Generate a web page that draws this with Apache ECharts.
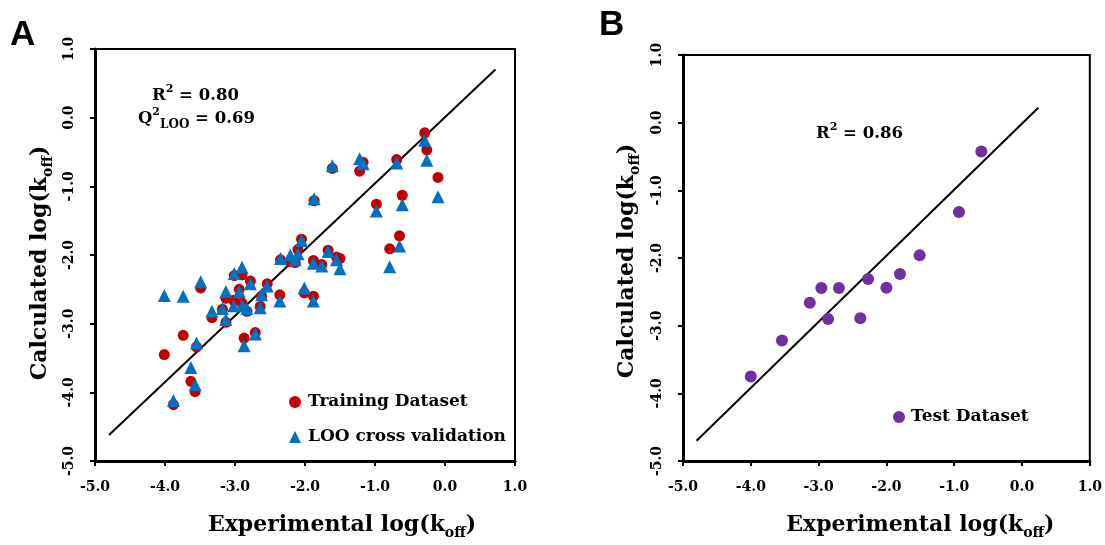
<!DOCTYPE html>
<html>
<head>
<meta charset="utf-8">
<title>log(koff) models</title>
<script src="https://cdn.jsdelivr.net/npm/echarts@6/dist/echarts.min.js"></script>
<style>
  html, body { margin: 0; padding: 0; background: #fff; }
  #chart { width: 1105px; height: 545px; }
</style>
</head>
<body>
<div id="chart"></div>
<script>
// Panel A: training compounds — experimental value, fitted value, leave-one-out prediction
const expA = [-4.01, -3.74, -3.88, -3.63, -3.57, -3.55, -3.49, -3.33, -3.18, -3.13,
              -3.13, -3.02, -3.01, -2.94, -2.90, -2.90, -2.83, -2.87, -2.78, -2.71,
              -2.64, -2.62, -2.54, -2.36, -2.35, -2.21, -2.14, -2.10, -2.05, -2.01,
              -1.88, -1.88, -1.76, -1.67, -1.55, -1.50, -1.87, -1.61, -1.22, -1.17,
              -0.98, -0.79, -0.69, -0.65, -0.61, -0.29, -0.26, -0.10];
const trainA = [-3.45, -3.17, -4.18, -3.84, -3.99, -3.34, -2.48, -2.91, -2.79, -2.63,
                -2.98, -2.66, -2.30, -2.50, -2.29, -2.70, -2.82, -3.21, -2.38, -3.13,
                -2.75, -2.60, -2.42, -2.58, -2.07, -2.10, -2.11, -1.92, -1.77, -2.55,
                -2.60, -2.08, -2.14, -1.93, -2.03, -2.05, -1.21, -0.74, -0.78, -0.65,
                -1.26, -1.91, -0.61, -1.72, -1.13, -0.22, -0.47, -0.87];
const looA = [-2.59, -2.60, -4.12, -3.64, -3.89, -3.28, -2.39, -2.82, -2.78, -2.53,
              -2.94, -2.74, -2.27, -2.53, -2.18, -2.74, -2.78, -3.32, -2.42, -3.15,
              -2.77, -2.58, -2.45, -2.67, -2.05, -2.00, -2.07, -1.98, -1.79, -2.48,
              -2.67, -2.12, -2.16, -1.95, -2.07, -2.20, -1.18, -0.70, -0.60, -0.67,
              -1.36, -2.17, -0.66, -1.87, -1.27, -0.33, -0.62, -1.15];
const fitA = [[-4.8, -4.62], [0.72, 0.70]];

// Panel B: external test compounds
const expB  = [-4.00, -3.54, -3.13, -2.96, -2.86, -2.70, -2.385, -2.27, -2.00, -1.80, -1.51, -0.93, -0.60];
const testB = [-3.75, -3.22, -2.66, -2.445, -2.90, -2.445, -2.89, -2.31, -2.44, -2.235, -1.96, -1.32, -0.425];
const fitB = [[-4.8, -4.70], [0.24, 0.22]];

// shared axis range and tick step
const axisMin = -5, axisMax = 1, axisStep = 1;

const SERIF = 'DejaVu Serif';
const RED = '#C00000', BLUE = '#0070C0', PURPLE = '#7030A0';

const zip = (xs, ys) => xs.map((x, i) => [x, ys[i]]);

const titleRich = {
  m: { fontFamily: SERIF, fontWeight: 'bold', fontSize: 22, lineHeight: 30, color: '#000' },
  s: { fontFamily: SERIF, fontWeight: 'bold', fontSize: 14, lineHeight: 14, verticalAlign: 'bottom', color: '#000' }
};

const noteRich = {
  m: { fontFamily: SERIF, fontWeight: 'bold', fontSize: 16.5, lineHeight: 24, fill: '#000' },
  p: { fontFamily: SERIF, fontWeight: 'bold', fontSize: 11, lineHeight: 13, verticalAlign: 'top', fill: '#000' },
  s: { fontFamily: SERIF, fontWeight: 'bold', fontSize: 12, lineHeight: 12, verticalAlign: 'bottom', fill: '#000' }
};

function valueAxis(gridIndex, isX, name, gap, pad) {
  return {
    type: 'value',
    gridIndex,
    min: axisMin, max: axisMax, interval: axisStep,
    name,
    nameLocation: 'middle',
    nameGap: gap,
    nameTextStyle: { rich: titleRich, padding: pad },
    axisLine: { show: true, onZero: false, lineStyle: { color: '#000', width: 3 } },
    axisTick: { show: true, inside: false, length: 5, lineStyle: { color: '#000', width: 2 } },
    axisLabel: {
      show: true,
      rotate: isX ? 0 : 90,
      margin: isX ? 19 : 19,
      fontFamily: SERIF, fontWeight: 'bold', fontSize: 14, color: '#000',
      formatter: v => v.toFixed(1)
    },
    splitLine: { show: false }
  };
}

const chart = echarts.init(document.getElementById('chart'), null, { renderer: 'canvas' });

chart.setOption({
  backgroundColor: '#fff',
  animation: false,
  grid: [
    { left: 95, top: 49, width: 420, height: 418, show: true, borderColor: '#000', borderWidth: 2, containLabel: false },
    { left: 683, top: 55, width: 410, height: 410, show: true, borderColor: '#000', borderWidth: 2, containLabel: false }
  ],
  xAxis: [
    valueAxis(0, true, '{m|Experimental log(k}{s|off}{m|)}', 49, [0, 0, 0, 74]),
    valueAxis(1, true, '{m|Experimental log(k}{s|off}{m|)}', 49, [0, 0, 0, 68])
  ],
  yAxis: [
    valueAxis(0, false, '{m|Calculated log(k}{s|off}{m|)}', 40, [0, 16, 0, 0]),
    valueAxis(1, false, '{m|Calculated log(k}{s|off}{m|)}', 41, [0, 6, 0, 0])
  ],
  legend: [
    {
      orient: 'vertical', left: 289, top: 392, padding: 0,
      data: ['Training Dataset', 'LOO cross validation'],
      itemWidth: 12, itemHeight: 12, itemGap: 15,
      textStyle: { fontFamily: SERIF, fontWeight: 'bold', fontSize: 17, color: '#000', lineHeight: 20, padding: [0, 0, 0, 2] }
    },
    {
      orient: 'vertical', left: 893, top: 407, padding: 0,
      data: ['Test Dataset'],
      itemWidth: 12, itemHeight: 12,
      textStyle: { fontFamily: SERIF, fontWeight: 'bold', fontSize: 17, color: '#000', lineHeight: 20, padding: [0, 0, 0, 1] }
    }
  ],
  graphic: [
    { type: 'text', left: 10, top: 18, style: { text: 'A', fontFamily: 'Liberation Sans', fontWeight: 'bold', fontSize: 35, fill: '#000' } },
    { type: 'text', left: 599, top: 8, style: { text: 'B', fontFamily: 'Liberation Sans', fontWeight: 'bold', fontSize: 35, fill: '#000' } },
    { type: 'text', left: 152, top: 84, style: { text: '{m|R}{p|2}{m| = 0.80}', rich: noteRich } },
    { type: 'text', left: 138, top: 107, style: { text: '{m|Q}{p|2}{s|LOO}{m| = 0.69}', rich: noteRich } },
    { type: 'text', left: 816, top: 122, style: { text: '{m|R}{p|2}{m| = 0.86}', rich: noteRich } }
  ],
  series: [
    {
      name: 'fit A', type: 'line', xAxisIndex: 0, yAxisIndex: 0,
      data: fitA, symbol: 'none', silent: true,
      lineStyle: { color: '#000', width: 2 }, z: 1
    },
    {
      name: 'Training Dataset', type: 'scatter', xAxisIndex: 0, yAxisIndex: 0,
      data: zip(expA, trainA), symbol: 'circle', symbolSize: 11,
      itemStyle: { color: RED, opacity: 1 }, z: 2
    },
    {
      name: 'LOO cross validation', type: 'scatter', xAxisIndex: 0, yAxisIndex: 0,
      data: zip(expA, looA), symbol: 'triangle', symbolSize: 13,
      itemStyle: { color: BLUE, opacity: 1 }, z: 3
    },
    {
      name: 'fit B', type: 'line', xAxisIndex: 1, yAxisIndex: 1,
      data: fitB, symbol: 'none', silent: true,
      lineStyle: { color: '#000', width: 2 }, z: 1
    },
    {
      name: 'Test Dataset', type: 'scatter', xAxisIndex: 1, yAxisIndex: 1,
      data: zip(expB, testB), symbol: 'circle', symbolSize: 12,
      itemStyle: { color: PURPLE, opacity: 1 }, z: 2
    }
  ]
});
</script>
</body>
</html>
